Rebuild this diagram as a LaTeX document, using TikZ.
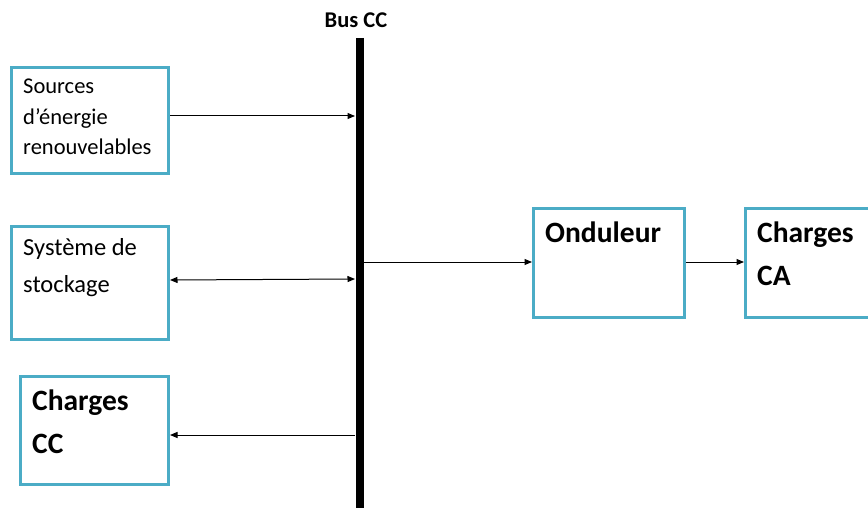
\documentclass[tikz,border=0pt]{standalone}
\usepackage{fontspec}
\setmainfont{Carlito}
\usetikzlibrary{arrows.meta}
\definecolor{boxblue}{HTML}{4BACC6}
\tikzset{
  blockbox/.style={draw=boxblue, line width=3pt, fill=white, inner sep=0pt, anchor=north west},
  smalltxt/.style={anchor=base west, inner sep=0pt, font=\fontsize{22.5}{30.5}\selectfont, align=left},
  bigtxt/.style={anchor=base west, inner sep=0pt, font=\fontsize{29.5}{43}\selectfont\bfseries, align=left},
  conn/.style={line width=1pt, -{Triangle[length=7.5pt,width=6pt]}},
  biconn/.style={line width=1pt, {Triangle[length=7.5pt,width=6pt]}-{Triangle[length=7.5pt,width=6pt]}},
}
\begin{document}
\begin{tikzpicture}[x=1pt,y=-1pt]
\useasboundingbox (0,0) rectangle (868,508);
% bus
\coordinate (busTop) at (360,38);
\coordinate (busBot) at (360,508);
\draw[line width=8pt] (busTop) -- (busBot);
\node[anchor=base, inner sep=0pt, font=\fontsize{22.5}{26}\selectfont\bfseries] (busLbl) at (356,28) {Bus CC};
% boxes
\node[blockbox, minimum width=157pt, minimum height=106pt] (src) at (10,66) {};
\node[smalltxt] (srcT) at (23,155) {Sources\\d’énergie\\renouvelables};
\node[blockbox, minimum width=157pt, minimum height=113pt] (sto) at (10,225) {};
\node[smalltxt, font=\fontsize{24.5}{37}\selectfont] (stoT) at (23,292) {Système de\\stockage};
\node[blockbox, minimum width=148pt, minimum height=108pt] (ccl) at (19,375) {};
\node[bigtxt] (cclT) at (32,453) {Charges\\CC};
\node[blockbox, minimum width=151pt, minimum height=109pt] (ond) at (532,207) {};
\node[bigtxt] (ondT) at (545,242) {Onduleur};
\node[blockbox, minimum width=160pt, minimum height=109pt] (cal) at (744,207) {};
\node[bigtxt] (calT) at (757,285) {Charges\\CA};
% bus points
\coordinate (b1) at (355,116);
\coordinate (b2) at (355,279);
\coordinate (b3) at (355,435);
\coordinate (b4) at (364,262);
% connectors
\draw[conn] (src.east |- b1) -- (b1);
\draw[biconn] ([yshift=-1pt]sto.east |- b2) -- (b2);
\draw[conn] (b3) -- (ccl.east |- b3);
\draw[conn] (b4) -- (ond.west |- b4);
\draw[conn] (ond.east |- b4) -- (cal.west |- b4);
\end{tikzpicture}
\end{document}
